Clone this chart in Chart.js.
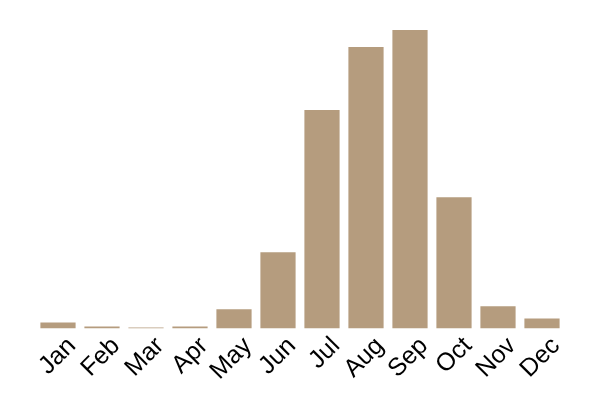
<!DOCTYPE html>
<html>
<head>
<meta charset="utf-8">
<script src="https://cdn.jsdelivr.net/npm/chart.js@4"></script>
<style>
  html, body { margin: 0; padding: 0; background: #fff; }
  #wrap { width: 600px; height: 400px; }
</style>
</head>
<body>
<div id="wrap"><canvas id="chart"></canvas></div>
<script>
// Monthly values
const MONTHS = ["Jan", "Feb", "Mar", "Apr", "May", "Jun", "Jul", "Aug", "Sep", "Oct", "Nov", "Dec"];
const VALUES = [6, 2, 1, 2, 19, 76, 218, 281, 298, 131, 22, 10];
const BAR_COLOR = "#b59c7e";

const chart = new Chart(document.getElementById("chart"), {
  type: "bar",
  data: {
    labels: MONTHS,
    datasets: [
      {
        data: VALUES,
        backgroundColor: BAR_COLOR,
        barPercentage: 0.8,
        categoryPercentage: 1.0,
      },
    ],
  },
  options: {
    responsive: true,
    maintainAspectRatio: false,
    animation: false,
    layout: {
      padding: { left: 36, right: 36, top: 30, bottom: 11 },
    },
    plugins: {
      legend: { display: false },
      tooltip: { enabled: false },
    },
    scales: {
      x: {
        grid: { display: false, drawTicks: false },
        border: { display: false },
        ticks: {
          color: "#000",
          autoSkip: false,
          minRotation: 45,
          maxRotation: 45,
          padding: 3,
          labelOffset: 14,
          font: { family: "Liberation Sans, Arial, sans-serif", size: 25 },
        },
      },
      y: {
        display: false,
        min: 0,
        max: 298,
      },
    },
  },
});
</script>
</body>
</html>
